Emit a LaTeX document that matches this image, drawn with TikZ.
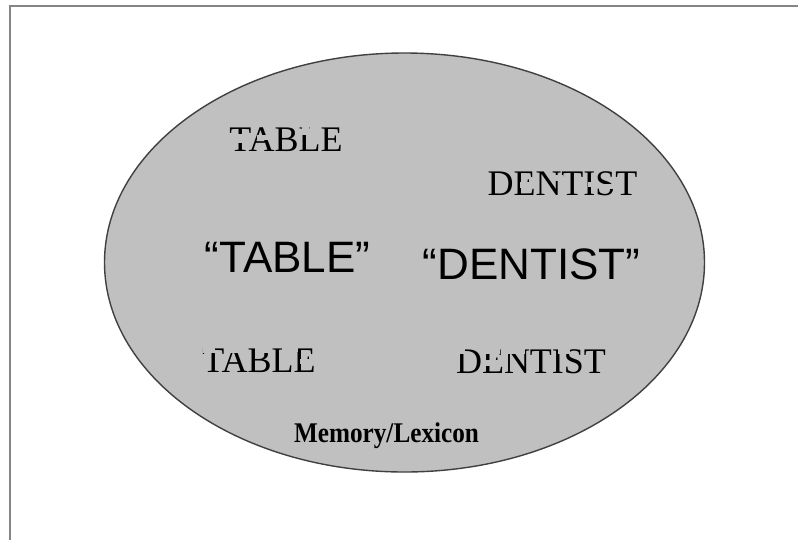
\documentclass[tikz,border=0pt]{standalone}
\usepackage{fontspec}
\setmainfont{Liberation Serif}
\newfontfamily\arialfont{Liberation Sans}
\definecolor{lexfill}{HTML}{C0C0C0}
\definecolor{lexline}{HTML}{404040}
\definecolor{frameline}{HTML}{858585}
\tikzset{
  word/.style={inner sep=0pt, anchor=base, text=black},
  printed/.style={word, font=\fontsize{36}{36}\selectfont},
  spoken/.style={word, font=\arialfont\fontsize{44}{44}\selectfont},
  caption/.style={word, font=\bfseries\fontsize{28.5}{28.5}\selectfont, xscale=0.885},
  lexicon/.style={draw=lexline, fill=lexfill, line width=1.4pt},
  frame/.style={draw=frameline, line width=1.6pt},
  erase/.style={fill=lexfill}
}
\begin{document}
\begin{tikzpicture}[x=1pt,y=-1pt]
\useasboundingbox (0,0) rectangle (798,539);
\fill[white] (0,0) rectangle (798,539);
\draw[frame] (10,545) -- (10,6) -- (805,6);
\path[lexicon] (404.5,262.5) ellipse [x radius=300, y radius=209.5];
\node[printed] (t1) at (286,151) {TABLE};
\node[printed] (d1) at (562.5,195) {DENTIST};
\node[spoken] (t2) at (287.5,272) {“TABLE”};
\node[spoken] (d2) at (531.5,279) {“DENTIST”};
\node[printed] (t3) at (259,372) {TABLE};
\node[printed] (d3) at (531,373) {DENTIST};
\node[caption] (cap) at (386.5,442) {Memory/Lexicon};
% degraded (partly erased) printed words
\path[erase] (237,134) rectangle (245,143);
\path[erase] (257,135) rectangle (271,139.5);
\path[erase] (302,127) rectangle (309,135);
\path[erase] (520,182) rectangle (530,188);
\path[erase] (553,175) rectangle (563,181);
\path[erase] (588,182) rectangle (598,187);
\path[erase] (601,184) rectangle (614,189);
\path[erase] (203,348) rectangle (215,353);
\path[erase] (225,347) rectangle (240,353);
\path[erase] (255,348) rectangle (268,352.5);
\path[erase] (282,347) rectangle (298,352);
\path[erase] (300,359) rectangle (312,364);
\path[erase] (455,348) rectangle (465,354);
\path[erase] (480,348) rectangle (500,354);
\path[erase] (483,360) rectangle (498,366);
\path[erase] (505,348) rectangle (525,354);
\path[erase] (558,348) rectangle (570,354);
\end{tikzpicture}
\end{document}
